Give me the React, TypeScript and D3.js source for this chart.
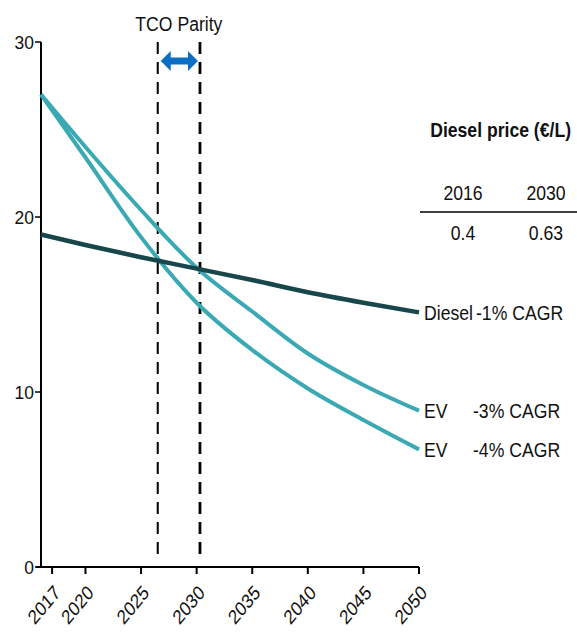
import React from 'react';
import * as d3 from 'd3';

const years = [2016, 2020, 2025, 2030, 2035, 2040, 2045, 2050];
const diesel = [19.0, 18.4, 17.7, 17.05, 16.4, 15.7, 15.1, 14.55];
const ev3 = [27.0, 24.0, 20.4, 17.1, 14.6, 12.2, 10.4, 8.93];
const ev4 = [27.0, 23.4, 18.85, 15.1, 12.4, 10.2, 8.4, 6.72];
const xTicks = [2017, 2020, 2025, 2030, 2035, 2040, 2045, 2050];
const yTicks = [0, 10, 20, 30];
const parityYears = [2026.5, 2030.3];
const tableTitle = 'Diesel price (€/L)';
const tableHeaders = ['2016', '2030'];
const tableValues = ['0.4', '0.63'];

const FONT = "'Liberation Sans', Arial, sans-serif";
const TEAL = '#3aa9b4';
const DARK = '#17474b';
const BLUE = '#0a6fc4';

type TP = { x: number; y: number; s?: number; rot?: number; children: React.ReactNode; [k: string]: any };
function T({ x, y, s = 0.84, rot = 0, children, ...rest }: TP) {
  return (
    <text transform={`translate(${x},${y}) scale(${s},1) rotate(${rot})`} fill="#111" {...rest}>
      {children}
    </text>
  );
}

export default function App() {
  const x = d3.scaleLinear().domain([2016, 2050]).range([41, 419]);
  const y = d3.scaleLinear().domain([0, 30]).range([567, 42]);
  const line = (vals: number[]) =>
    d3.line<number>().x((_, i) => x(years[i])).y((d) => y(d)).curve(d3.curveMonotoneX)(vals) || '';

  const ax = x(parityYears[0]) + 3;
  const bx = x(parityYears[1]) - 2;
  const ay = 61;
  const hl = 10;
  const hh = 10;
  const sh = 3.5;
  const arrow = `M${ax},${ay} L${ax + hl},${ay - hh} L${ax + hl},${ay - sh} L${bx - hl},${ay - sh} L${bx - hl},${ay - hh} L${bx},${ay} L${bx - hl},${ay + hh} L${bx - hl},${ay + sh} L${ax + hl},${ay + sh} L${ax + hl},${ay + hh} Z`;

  return (
    <svg width={577} height={632} style={{ position: 'absolute', left: 0, top: 0, background: '#fff' }} fontFamily={FONT}>
      {/* y axis */}
      <line x1={x(2016)} x2={x(2016)} y1={y(30)} y2={y(0)} stroke="#000" strokeWidth={2} />
      {yTicks.map((t) => (
        <g key={t}>
          <line x1={x(2016) - 6} x2={x(2016)} y1={y(t)} y2={y(t)} stroke="#000" strokeWidth={1.5} />
          <T x={x(2016) - 7} y={y(t)} s={0.92} dy="0.35em" textAnchor="end" fontSize={19}>{t}</T>
        </g>
      ))}
      {/* x axis */}
      <line x1={x(2016) - 5} x2={x(2050)} y1={y(0)} y2={y(0)} stroke="#000" strokeWidth={2} />
      {xTicks.map((t) => (
        <g key={t}>
          <line x1={x(t)} x2={x(t)} y1={y(0)} y2={y(0) + 7} stroke="#000" strokeWidth={2} />
          <T x={x(t) + 5} y={y(0) + 22} rot={-45} s={0.84} textAnchor="end" dy="0.35em" fontSize={20}>{t}</T>
        </g>
      ))}
      {/* parity lines */}
      {parityYears.map((p, i) => (
        <line key={p} x1={x(p)} x2={x(p)} y1={42} y2={555} stroke="#000" strokeWidth={i === 0 ? 2 : 2.8} strokeDasharray="12 8" />
      ))}
      <T x={(x(parityYears[0]) + x(parityYears[1])) / 2} y={31} textAnchor="middle" fontSize={21}>TCO Parity</T>
      <path d={arrow} fill={BLUE} />
      {/* lines */}
      <path d={line(ev3)} fill="none" stroke={TEAL} strokeWidth={4} />
      <path d={line(ev4)} fill="none" stroke={TEAL} strokeWidth={4} />
      <path d={line(diesel)} fill="none" stroke={DARK} strokeWidth={4.5} />
      {/* labels */}
      <T x={424} y={320} fontSize={21}>Diesel</T>
      <T x={476} y={320} fontSize={21}>-1% CAGR</T>
      <T x={424} y={418} fontSize={21}>EV</T>
      <T x={473} y={418} fontSize={21}>-3% CAGR</T>
      <T x={424} y={457} fontSize={21}>EV</T>
      <T x={473} y={457} fontSize={21}>-4% CAGR</T>
      {/* table */}
      <T x={571} y={137} s={0.88} textAnchor="end" fontSize={20} fontWeight="bold">{tableTitle}</T>
      {tableHeaders.map((h, i) => (
        <T key={h} x={463 + i * 83} y={200} textAnchor="middle" fontSize={21}>{h}</T>
      ))}
      <line x1={420} x2={577} y1={212} y2={212} stroke="#000" strokeWidth={1.5} />
      {tableValues.map((v, i) => (
        <T key={v} x={463 + i * 83} y={240} textAnchor="middle" fontSize={21}>{v}</T>
      ))}
    </svg>
  );
}
